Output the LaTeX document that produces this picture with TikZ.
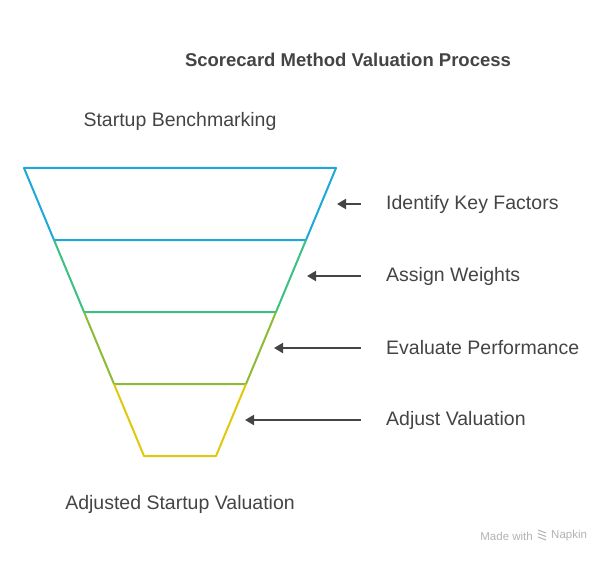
\documentclass[tikz,border=0pt]{standalone}
\usepackage{fontspec}
\setmainfont{Liberation Sans}
\usetikzlibrary{arrows.meta}
\definecolor{cblue}{HTML}{1EA8D8}
\definecolor{cgreen}{HTML}{3CC083}
\definecolor{colive}{HTML}{8DBB35}
\definecolor{cyel}{HTML}{E0C80E}
\definecolor{ctext}{HTML}{444444}
\begin{document}
\begin{tikzpicture}[x=1pt,y=-1pt,
  seg/.style={line width=2pt,line join=round},
  lab/.style={font=\fontsize{19.5}{22}\selectfont,text=ctext,inner sep=0pt},
  arr/.style={-{Triangle[length=9pt,width=10pt]},line width=2pt,draw=ctext}]
\useasboundingbox (0,0) rectangle (613,564);
\node[font=\bfseries\fontsize{18.5}{22}\selectfont,text=ctext] (title) at (348,60) {Scorecard Method Valuation Process};
\node[lab] (top) at (180,121) {Startup Benchmarking};
\node[lab] (bot) at (180,504) {Adjusted Startup Valuation};
\draw[seg,cblue] (54,240) -- (24,168) -- (336,168) -- (306,240) -- cycle;
\draw[seg,cgreen] (54,240) -- (84,312) -- (276,312) -- (306,240);
\draw[seg,colive] (84,312) -- (114,384) -- (246,384) -- (276,312);
\draw[seg,cyel] (114,384) -- (144,456) -- (216,456) -- (246,384);
\foreach \y/\t/\tx/\n in {204/337/Identify Key Factors/a,276/307/Assign Weights/b,348/274/Evaluate Performance/c,420/245/Adjust Valuation/d}{
  \node[lab,anchor=west] (l\n) at (386,\y) {\tx};
  \coordinate (t\n) at (\t,\y);
  \coordinate (s\n) at (361,\y);
  \draw[arr] (s\n) -- (t\n);
}
\node[font=\fontsize{11.5}{13}\selectfont,text=gray!60,anchor=east,inner sep=0pt] (mw) at (533,536) {Made with};
\node[font=\fontsize{11.5}{13}\selectfont,text=gray!60,anchor=west,inner sep=0pt] (np) at (551,536) {Napkin};
\foreach \d in {0,3.5,7}{\draw[gray!60,line width=1pt] (538,530+\d) -- (546,533+\d);}
\end{tikzpicture}
\end{document}
